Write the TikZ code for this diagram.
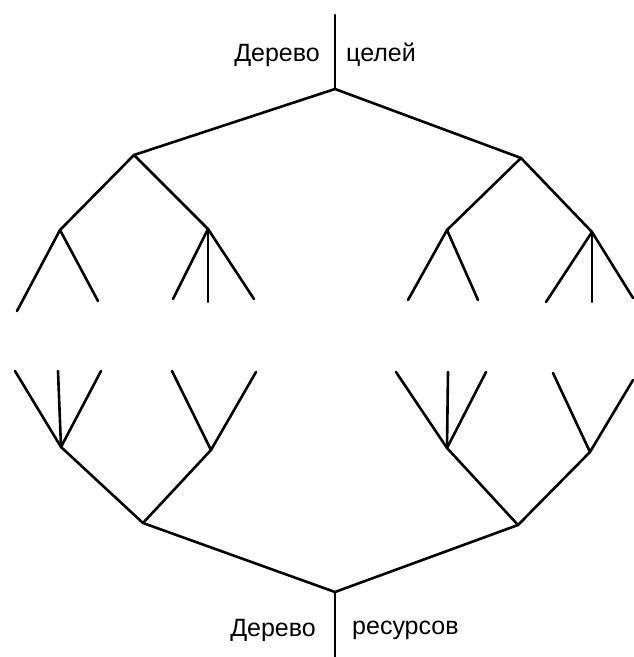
\documentclass[tikz,border=0pt]{standalone}
\usepackage{fontspec}
\setmainfont{Liberation Sans}
\begin{document}
\begin{tikzpicture}[x=1pt,y=-1pt,
  edge/.style={line width=2.6pt,line cap=round,line join=round},
  lbl/.style={inner sep=0pt,font=\fontsize{25}{27}\selectfont}]
\useasboundingbox (0,0) rectangle (633,657);
% goal tree
\coordinate (gtop) at (335,15);
\coordinate (g) at (335,89);
\coordinate (gL) at (134,155);
\coordinate (gR) at (521,158);
\coordinate (gLL) at (60,230);
\coordinate (gLR) at (208,229);
\coordinate (gRL) at (447,230);
\coordinate (gRR) at (592,232);
\coordinate (l1) at (17,311);
\coordinate (l2) at (98,301);
\coordinate (l3) at (173,299);
\coordinate (l4) at (208,302);
\coordinate (l5) at (254,299);
\coordinate (l6) at (408,300);
\coordinate (l7) at (478,300);
\coordinate (l8) at (546,302);
\coordinate (l9) at (592,302);
\coordinate (l10) at (633,298);
\draw[edge] (gtop) -- (g);
\draw[edge] (gL) -- (g) -- (gR);
\draw[edge] (gLL) -- (gL) -- (gLR);
\draw[edge] (gRL) -- (gR) -- (gRR);
\draw[edge] (l1) -- (gLL) -- (l2);
\draw[edge] (l3) -- (gLR) -- (l5);
\draw[edge] (gLR) -- (l4);
\draw[edge] (l6) -- (gRL) -- (l7);
\draw[edge] (l8) -- (gRR) -- (l10);
\draw[edge] (gRR) -- (l9);
% resource tree
\coordinate (rbot) at (335,657);
\coordinate (r) at (335,592);
\coordinate (rL) at (143,523);
\coordinate (rR) at (518,525);
\coordinate (rLL) at (61,447);
\coordinate (rLR) at (211,450);
\coordinate (rRL) at (447,448);
\coordinate (rRR) at (590,452);
\coordinate (m1) at (15,371);
\coordinate (m2) at (58,371);
\coordinate (m3) at (101,371);
\coordinate (m4) at (172,371);
\coordinate (m5) at (256,372);
\coordinate (m6) at (396,372);
\coordinate (m7) at (448,372);
\coordinate (m8) at (486,372);
\coordinate (m9) at (553,373);
\coordinate (m10) at (633,380);
\draw[edge] (rbot) -- (r);
\draw[edge] (rL) -- (r) -- (rR);
\draw[edge] (rLL) -- (rL) -- (rLR);
\draw[edge] (rRL) -- (rR) -- (rRR);
\draw[edge] (m1) -- (rLL) -- (m3);
\draw[edge] (m2) -- (rLL);
\draw[edge] (m4) -- (rLR) -- (m5);
\draw[edge] (m6) -- (rRL) -- (m8);
\draw[edge] (m7) -- (rRL);
\draw[edge] (m9) -- (rRR) -- (m10);
% labels
\node[lbl,anchor=east] (t1) at (320,55) {Дерево};
\node[lbl,anchor=west] (t2) at (346,55) {целей};
\node[lbl,anchor=east] (b1) at (316,630) {Дерево};
\node[lbl,anchor=west] (b2) at (352,630) {ресурсов};
\end{tikzpicture}
\end{document}
